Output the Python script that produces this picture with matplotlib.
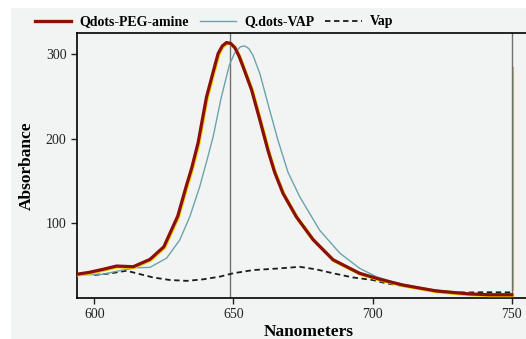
import matplotlib
matplotlib.use("Agg")
from matplotlib import pyplot as plt
from matplotlib import patheffects as pe
from matplotlib.patches import Rectangle

# Qdots-PEG-amine (thick red)
peg_nm = [594, 598, 603, 608, 614, 620, 625, 630, 633, 635, 637.3, 640.3, 642.7, 644.5,
          646, 647.5, 649, 650.5, 652, 653.5, 656.5, 659.5, 662.4, 664.8, 667.8, 672.6,
          678.6, 685.8, 695.3, 702.5, 710.9, 722.9, 734.8, 742, 750]
peg_abs = [39, 41, 44.6, 48.6, 47.8, 56.5, 71.5, 108, 143, 165, 195, 249, 279, 301,
           310, 314, 313, 308, 298, 285, 258, 222, 186, 160, 135, 107,
           80, 56, 40, 33, 26, 19, 15.5, 14.5, 14.5]

# Q.dots-VAP (thin teal)
vap_q_nm = [594, 603, 609, 615, 620, 626, 630.7, 634.3, 637.9, 640.3, 642.7, 645.5, 648.5,
            650.5, 652.5, 654, 655.5, 657, 659.5, 663, 666, 669.6, 673.8, 681, 688.2,
            695.3, 701.3, 708, 720, 735, 750]
vap_q_abs = [38, 38.7, 43, 46.6, 47, 58, 79.5, 107, 143, 172, 202, 247, 287,
             302, 309, 310, 307, 299, 277, 234, 198, 160, 131, 91, 64,
             46, 36, 29, 21, 16, 15]

# Vap (dashed)
vap_nm = [600, 605, 609.3, 611.6, 615.2, 621.2, 627.2, 633.2, 639.1, 645.1, 649.9, 657,
          666.6, 673.8, 679.8, 685.8, 693, 700.1, 705, 716.9, 728.9, 740.8, 750]
vap_abs = [38, 39.5, 41.8, 43, 40, 35, 32, 31, 32.8, 36, 40, 43.8,
           45.8, 47.7, 44.6, 40, 35, 32, 28, 22, 17, 17.5, 17.3]

marker_lines = [648.7, 750]
xticks = [600, 650, 700, 750]
yticks = [100, 200, 300]

plt.rcParams['font.family'] = ['Liberation Serif', 'DejaVu Serif']
bg = '#f2f4f4'

fig = plt.figure(figsize=(5.26, 3.39), dpi=100)
fig.patch.set_facecolor('white')
fig.patches.append(Rectangle((11 / 526, 0), 1, 1 - 8 / 339, transform=fig.transFigure,
                             facecolor=bg, edgecolor='none', zorder=-10))

ax = fig.add_axes([77 / 526, 41.3 / 339, 0.8795, 264.4 / 339])
ax.set_facecolor(bg)

for xv in marker_lines:
    ax.axvline(xv, color='#707070', lw=1.0, zorder=1)
ax.plot([750.4, 750.4], [20, 285], color='#c8b000', lw=0.8, zorder=1)

ax.plot(peg_nm, peg_abs, color='#8b0f0a', lw=2.3, label='Qdots-PEG-amine', zorder=4,
        solid_joinstyle='round',
        path_effects=[pe.Stroke(linewidth=2.5, foreground='#f2d000', offset=(0.5, -0.5)),
                      pe.Normal()])
ax.plot(vap_q_nm, vap_q_abs, color='#6aa3ab', lw=1.0, label='Q.dots-VAP', zorder=3)
ax.plot(vap_nm, vap_abs, color='#1a1a1a', lw=1.3, ls=(0, (3, 2)), label='Vap', zorder=2)

ax.set_xlim(593.8, 760)
ax.set_ylim(11, 325)
ax.set_xticks(xticks)
ax.set_yticks(yticks)
ax.tick_params(labelsize=10, colors='#222222', length=4, width=1)
for s in ['left', 'bottom', 'top', 'right']:
    ax.spines[s].set_linewidth(1.2)

ax.set_xlabel('Nanometers', fontsize=12.5, fontweight='bold', labelpad=2)
ax.set_ylabel('Absorbance', fontsize=12.5, fontweight='bold', labelpad=8)

fig.legend(loc='center', bbox_to_anchor=(214 / 526, 1 - 22 / 339), ncol=3, frameon=False,
           prop={'size': 10, 'weight': 'bold'}, handlelength=2.6, columnspacing=0.8,
           handletextpad=0.6)

fig.savefig('out.png', dpi=100, facecolor=fig.get_facecolor())
